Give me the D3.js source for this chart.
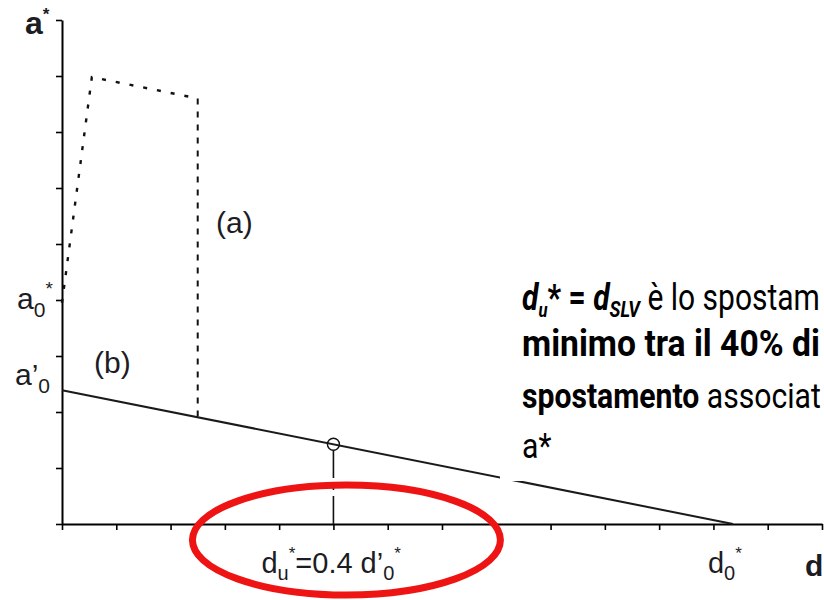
<!DOCTYPE html>
<html>
<head>
<meta charset="utf-8">
<script src="https://cdn.jsdelivr.net/npm/d3@7"></script>
<style>
  html, body { margin: 0; padding: 0; background: #fff; }
  svg { display: block; }
  .lbl { font-family: "Liberation Sans", Arial, sans-serif; fill: #1c1c24; }
  .note { font-family: Roboto, "Noto Sans", sans-serif; fill: #000; }
</style>
</head>
<body>
<svg id="chart" width="824" height="600"></svg>
<script>
// Axis tick positions (in spectral units of displacement and acceleration)
const xTicks = d3.range(0, 15);
const yTicks = d3.range(0, 10);

// (a) capacity curve of the original system: rise, peak, softening plateau
const curveA = [[0, 3.95], [0.55, 7.98], [2.5, 7.6]];
// (b) linear degradation from a'0 down to d0*
const aPrime0 = 2.39;
const d0Star = 12.36;
const lineB = [[0, aPrime0], [d0Star, 0]];
// ultimate displacement du* = 0.4 d'0*
const duStar = 5;

const svg = d3.select("#chart");
const x = d3.scaleLinear().domain([0, 14]).range([62, 822]);
const y = d3.scaleLinear().domain([0, 9]).range([524, 20]);
const bAt = d => aPrime0 * (1 - d / d0Star);

const line = d3.line().x(d => x(d[0])).y(d => y(d[1]));

// axes
const gy = svg.append("g").attr("transform", `translate(${x(0)},0)`)
  .call(d3.axisLeft(y).tickValues(yTicks).tickSize(6).tickSizeOuter(0).tickFormat(""));
const gx = svg.append("g").attr("transform", `translate(0,${y(0)})`)
  .call(d3.axisBottom(x).tickValues(xTicks).tickSize(6).tickSizeOuter(0).tickFormat(""));
[gx, gy].forEach(g => {
  g.select(".domain").attr("stroke", "#000").attr("stroke-width", 2);
  g.selectAll(".tick line").attr("stroke", "#000").attr("stroke-width", 1.6);
});

// (b) solid degradation line
svg.append("path").datum(lineB).attr("d", line)
  .attr("fill", "none").attr("stroke", "#1a1a1a").attr("stroke-width", 2);

// (a) dotted capacity curve
svg.append("path").datum(curveA).attr("d", line)
  .attr("fill", "none").attr("stroke", "#111").attr("stroke-width", 2.4)
  .attr("stroke-dasharray", "4,10");
const last = curveA[curveA.length - 1];
svg.append("path").datum([last, [last[0], bAt(last[0])]]).attr("d", line)
  .attr("fill", "none").attr("stroke", "#111").attr("stroke-width", 2)
  .attr("stroke-dasharray", "6,7");

// du* marker and its dash-dot drop line
svg.append("path").datum([[duStar, bAt(duStar) - 0.1], [duStar, 0]]).attr("d", line)
  .attr("fill", "none").attr("stroke", "#111").attr("stroke-width", 1.6)
  .attr("stroke-dasharray", "28,6,6,6");
svg.append("circle").attr("cx", x(duStar)).attr("cy", y(bAt(duStar)))
  .attr("r", 6).attr("fill", "none").attr("stroke", "#111").attr("stroke-width", 1.4);

// axis names
svg.append("text").attr("class", "lbl").attr("x", 25).attr("y", 34)
  .attr("font-size", 32).attr("font-weight", "bold")
  .text("a").append("tspan").attr("font-size", 17).attr("dy", -14).text("*");
svg.append("text").attr("class", "lbl").attr("x", 805).attr("y", 576)
  .attr("font-size", 30).attr("font-weight", "bold").text("d");

// curve tags
svg.append("text").attr("class", "lbl").attr("x", 216).attr("y", 233)
  .attr("font-size", 30).text("(a)");
svg.append("text").attr("class", "lbl").attr("x", 94).attr("y", 373)
  .attr("font-size", 30).text("(b)");

// a0* and a'0 labels
const a0 = svg.append("text").attr("class", "lbl").attr("x", 17).attr("y", y(4) + 9).attr("font-size", 30);
a0.append("tspan").text("a");
a0.append("tspan").attr("font-size", 21).attr("dy", 8).text("0");
a0.append("tspan").attr("font-size", 19).attr("dy", -22).text("*");
const ap0 = svg.append("text").attr("class", "lbl").attr("x", 15).attr("y", y(aPrime0) - 5).attr("font-size", 30);
ap0.append("tspan").text("a’");
ap0.append("tspan").attr("font-size", 21).attr("dy", 8).text("0");

// du* label
const du = svg.append("text").attr("class", "lbl").attr("x", x(duStar) - 72).attr("y", 573).attr("font-size", 29);
du.append("tspan").text("d");
du.append("tspan").attr("font-size", 20).attr("dy", 7).text("u");
du.append("tspan").attr("font-size", 17).attr("dy", -21).text("*");
du.append("tspan").attr("dy", 14).text("=0.4 d’");
du.append("tspan").attr("font-size", 20).attr("dy", 7).text("0");
du.append("tspan").attr("font-size", 17).attr("dy", -21).text("*");

// d0* label
const d0 = svg.append("text").attr("class", "lbl").attr("x", x(d0Star) - 25).attr("y", 573).attr("font-size", 29);
d0.append("tspan").text("d");
d0.append("tspan").attr("font-size", 20).attr("dy", 7).text("0");
d0.append("tspan").attr("font-size", 17).attr("dy", -21).text("*");

// red highlight around the du* label
svg.append("ellipse").attr("cx", x(duStar) + 13).attr("cy", 540)
  .attr("rx", 154).attr("ry", 55)
  .attr("fill", "none").attr("stroke", "#ee1414").attr("stroke-width", 7);

// explanatory note on a white panel, set in a condensed face
svg.append("rect").attr("x", 500).attr("y", 268).attr("width", 324).attr("height", 213).attr("fill", "#fff");
const note = svg.append("g").attr("class", "note");
const noteX = 522;

// squeeze a line horizontally so it spans the given width
function condense(g, baseline, width) {
  const len = g.select("text").node().getComputedTextLength();
  g.attr("transform", `translate(${noteX},${baseline}) scale(${width / len},1)`);
  return width / len;
}

const g1 = note.append("g");
const l1 = g1.append("text").attr("font-size", 36);
l1.append("tspan").attr("font-weight", "bold").attr("font-style", "italic").text("d");
l1.append("tspan").attr("font-weight", "bold").attr("font-style", "italic").attr("font-size", 20).attr("dy", 7).text("u");
l1.append("tspan").attr("font-weight", "bold").attr("dy", -7).text("* = ");
l1.append("tspan").attr("font-weight", "bold").attr("font-style", "italic").text("d");
l1.append("tspan").attr("font-weight", "bold").attr("font-style", "italic").attr("font-size", 22).attr("dy", 7).text("SLV");
l1.append("tspan").attr("dy", -7).text(" è lo spostam");
condense(g1, 310, 298);

const g2 = note.append("g");
g2.append("text").attr("font-size", 36).attr("font-weight", "bold").text("minimo tra il 40% di");
condense(g2, 356, 298);

const g3 = note.append("g");
const l3 = g3.append("text").attr("font-size", 36);
l3.append("tspan").attr("font-weight", "bold").text("spostamento");
l3.append("tspan").text(" associat");
const k3 = condense(g3, 408, 299);

const g4 = note.append("g").attr("transform", `translate(${noteX},458) scale(${k3},1)`);
g4.append("text").attr("font-size", 36).text("a*");
</script>
</body>
</html>
